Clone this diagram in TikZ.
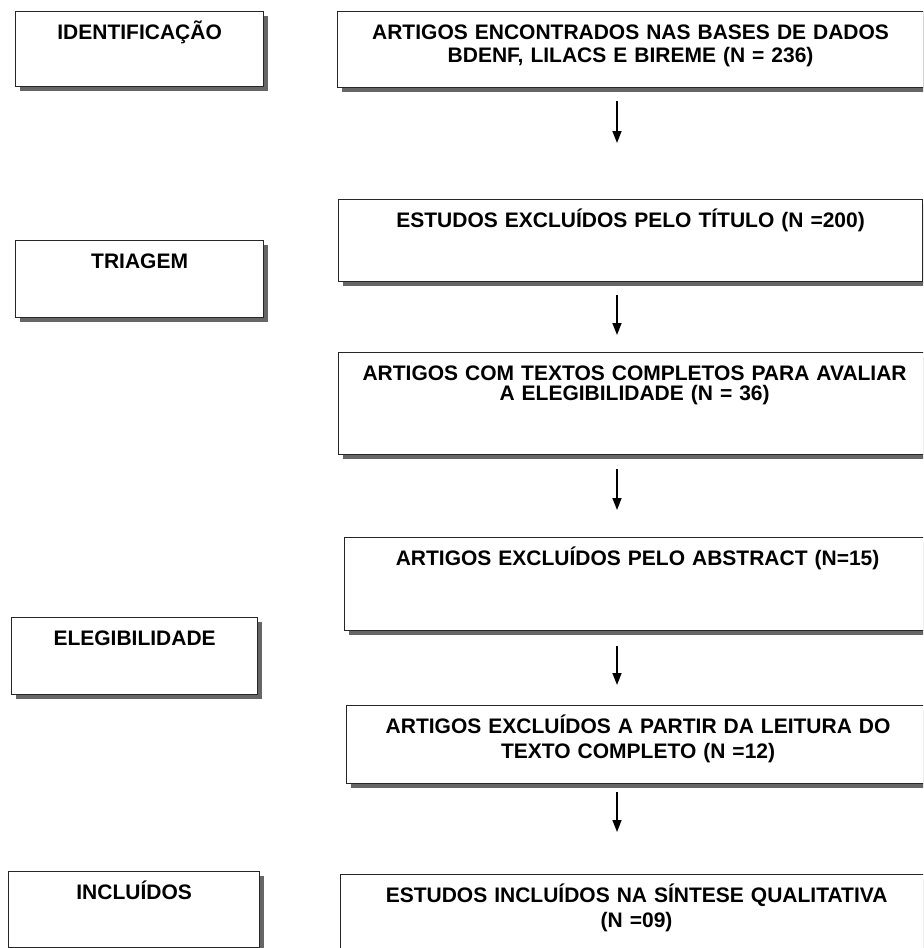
\documentclass[tikz,border=0pt]{standalone}
\usepackage{fontspec}
\setmainfont{Liberation Sans}
\usetikzlibrary{shadows,arrows.meta}
\newcommand\caixafont[1]{\bfseries\fontsize{10.5}{#1}\selectfont\lineskiplimit=-10pt\relax}
\tikzset{
	caixa/.style={draw=black!85, line width=0.6pt, fill=white, anchor=north west,
		inner sep=0pt, align=center, text height=14pt, font=\caixafont{12},
		drop shadow={shadow xshift=2pt, shadow yshift=-2pt, opacity=1, fill=black!60}},
	seta/.style={-{Triangle[length=6pt,width=4.5pt]}, line width=0.8pt}
}

\begin{document}
\begin{tikzpicture}[x=0.5pt,y=-0.5pt]
		\useasboundingbox (0,0) rectangle (923,948);
		\clip (0,0) rectangle (923,948);

		\node[caixa, text width=124pt, text depth=23.5pt] (ident) at (15,11) {IDENTIFICAÇÃO};
		\node[caixa, text width=124pt, text depth=24.5pt] (triagem) at (15,240) {TRIAGEM};
		\node[caixa, text width=123pt, text depth=24.5pt] (elegib) at (11,617) {ELEGIBILIDADE};
		\node[caixa, text width=125.5pt, text depth=24pt] (incl) at (8,871) {INCLUÍDOS};

		\node[caixa, text width=293pt, text depth=24pt, font=\caixafont{11.5}] (encontrados) at (337,11)
			{ARTIGOS ENCONTRADOS NAS BASES DE DADOS\\BDENF, LILACS E BIREME (N = 236)};
		\node[caixa, text width=292pt, text depth=27pt] (excltitulo) at (338,199)
			{ESTUDOS EXCLUÍDOS PELO TÍTULO (N =200)};
		\node[caixa, text width=296pt, text depth=37pt, font=\caixafont{10}] (completos) at (338,352)
			{ARTIGOS COM TEXTOS COMPLETOS PARA AVALIAR\\A ELEGIBILIDADE (N = 36)};
		\node[caixa, text width=293pt, text depth=32.5pt] (exclabstract) at (344,537)
			{ARTIGOS EXCLUÍDOS PELO ABSTRACT (N=15)};
		\node[caixa, text width=291.5pt, text depth=25pt, font=\caixafont{12.5}] (excltexto) at (346,705)
			{ARTIGOS EXCLUÍDOS A PARTIR DA LEITURA DO\\TEXTO COMPLETO (N =12)};
		\node[caixa, text width=296pt, text depth=26pt, font=\caixafont{12.5}] (incluidos) at (340,874)
			{ESTUDOS INCLUÍDOS NA SÍNTESE QUALITATIVA\\(N =09)};

		\coordinate (eixo) at (617,0);
		\draw[seta, shorten <=6.5pt, shorten >=28pt] (encontrados.south -| eixo) -- (excltitulo.north -| eixo);
		\draw[seta, shorten <=6.5pt, shorten >=8.5pt] (excltitulo.south -| eixo) -- (completos.north -| eixo);
		\draw[seta, shorten <=7pt, shorten >=13.5pt] (completos.south -| eixo) -- (exclabstract.north -| eixo);
		\draw[seta, shorten <=7.5pt, shorten >=10pt] (exclabstract.south -| eixo) -- (excltexto.north -| eixo);
		\draw[seta, shorten <=4pt, shorten >=21pt] (excltexto.south -| eixo) -- (incluidos.north -| eixo);
	\end{tikzpicture}
\end{document}
